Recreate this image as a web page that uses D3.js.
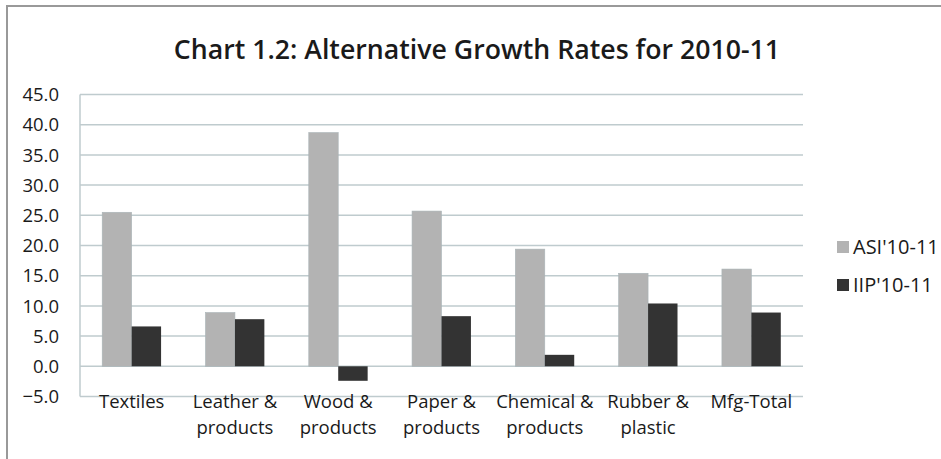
<!DOCTYPE html>
<html>
<head>
<meta charset="utf-8">
<script src="https://cdn.jsdelivr.net/npm/d3@7"></script>
<style>
  body { margin: 0; background: #fff; }
  svg { display: block; }
  text { font-family: "Open Sans", "Noto Sans", sans-serif; fill: #1a1a1a; }
</style>
</head>
<body>
<div id="chart"></div>
<script>
  // данные
  let categories = [["Textiles"], ["Leather &", "products"], ["Wood &", "products"],
                    ["Paper &", "products"], ["Chemical &", "products"],
                    ["Rubber &", "plastic"], ["Mfg-Total"]];
  let seriesNames = ["ASI'10-11", "IIP'10-11"];
  let asi = [25.5, 8.9, 38.7, 25.7, 19.4, 15.4, 16.1];
  let iip = [6.6, 7.8, -2.4, 8.3, 1.9, 10.4, 8.9];
  let ticks = [-5, 0, 5, 10, 15, 20, 25, 30, 35, 40, 45];
  let colors = ["#b3b3b3", "#333333"];

  let width = 941, height = 459;
  let plot = { left: 80, right: 803, top: 94.5, bottom: 396.5 };

  let svg = d3.select('#chart').append('svg')
              .attr('width', width).attr('height', height);

  // рамка (видны только верх и лево)
  svg.append('path').attr('d', `M7,${height} V6 H${width}`)
     .attr('fill', 'none').attr('stroke', '#999').attr('stroke-width', 2);

  // заголовок
  svg.append('text').attr('x', 477).attr('y', 59).attr('text-anchor', 'middle')
     .style('font-size', '26.7px').style('font-weight', 600)
     .text('Chart 1.2: Alternative Growth Rates for 2010-11');

  let x = d3.scaleBand().domain(d3.range(categories.length))
            .range([plot.left, plot.right]).paddingInner(0.43).paddingOuter(0.215);
  let xs = d3.scaleBand().domain([0, 1]).range([0, x.bandwidth()]);
  let y = d3.scaleLinear().domain([-5, 45]).range([plot.bottom, plot.top]);

  // сетка
  svg.append('g').selectAll('line').data(ticks).enter().append('line')
     .attr('x1', plot.left).attr('x2', plot.right)
     .attr('y1', d => y(d)).attr('y2', d => y(d))
     .attr('stroke', '#bfcbce').attr('stroke-width', 1.5);

  svg.append('line').attr('x1', plot.left).attr('x2', plot.left)
     .attr('y1', plot.top).attr('y2', plot.bottom)
     .attr('stroke', '#bfcbce').attr('stroke-width', 1.5);

  // подписи оси Y
  svg.append('g').selectAll('text').data(ticks).enter().append('text')
     .attr('x', 59).attr('y', d => y(d)).attr('dy', '0.36em')
     .attr('text-anchor', 'end').style('font-size', '18.5px')
     .text(d => d3.format('.1f')(d));

  // столбцы
  let series = [asi, iip];
  series.forEach((vals, s) => {
    svg.append('g').selectAll('rect').data(vals).enter().append('rect')
       .attr('x', (d, i) => x(i) + xs(s))
       .attr('width', xs.bandwidth())
       .attr('y', d => y(Math.max(0, d)))
       .attr('height', d => Math.abs(y(d) - y(0)))
       .attr('fill', colors[s])
       .attr('stroke', s ? 'none' : '#a9b4b7').attr('stroke-width', 0.6);
  });

  // подписи категорий
  let catText = svg.append('g').selectAll('text').data(categories).enter().append('text')
     .attr('text-anchor', 'middle').style('font-size', '18.5px')
     .attr('x', (d, i) => x(i) + x.bandwidth() / 2);
  catText.selectAll('tspan').data(d => d).enter().append('tspan')
     .attr('x', function () { return this.parentNode.getAttribute('x'); })
     .attr('y', (d, j) => 408 + j * 26)
     .text(d => d);

  // легенда
  let legend = svg.append('g').selectAll('g').data(seriesNames).enter().append('g')
     .attr('transform', (d, i) => `translate(837,${241 + i * 38})`);
  legend.append('rect').attr('width', 12).attr('height', 12)
     .attr('fill', (d, i) => colors[i]);
  legend.append('text').attr('x', 16).attr('y', 6).attr('dy', '0.36em')
     .style('font-size', '20px').text(d => d);
</script>
</body>
</html>
